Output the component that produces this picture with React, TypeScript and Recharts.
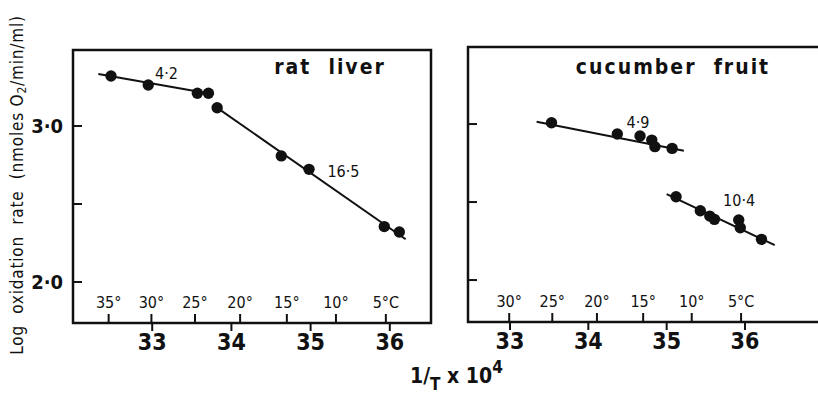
import React from 'react';
import {
  ComposedChart,
  Scatter,
  Line,
  XAxis,
  YAxis,
  ReferenceArea,
  ReferenceDot,
  Customized,
} from 'recharts';

const FONT = "'Liberation Sans Narrow', 'DejaVu Sans Condensed', 'Liberation Sans', Arial, sans-serif";
const INK = '#111';

// ---- rat liver ----
const ratX = [32.48, 32.95, 33.57, 33.71, 33.82, 34.63, 34.98, 35.93, 36.12];
const ratY = [3.32, 3.263, 3.21, 3.21, 3.117, 2.808, 2.722, 2.355, 2.32];
const ratFit1X = [32.32, 33.77];
const ratFit1Y = [3.333, 3.203];
const ratFit2X = [33.83, 36.2];
const ratFit2Y = [3.113, 2.274];
const ratNotes = ['4·2', '16·5'];
const ratNoteX = [33.18, 35.415];
const ratNoteY = [3.34, 2.712];

// ---- cucumber fruit ----
const cucX = [33.53, 34.37, 34.66, 34.81, 34.85, 35.07, 35.12, 35.43, 35.55, 35.61, 35.92, 35.94, 36.21];
const cucY = [3.008, 2.936, 2.923, 2.897, 2.855, 2.844, 2.534, 2.444, 2.41, 2.389, 2.385, 2.335, 2.261];
const cucFit1X = [33.34, 35.22];
const cucFit1Y = [3.015, 2.829];
const cucFit2X = [35.0, 36.38];
const cucFit2Y = [2.551, 2.224];
const cucNotes = ['4·9', '10·4'];
const cucNoteX = [34.635, 35.925];
const cucNoteY = [3.01, 2.513];

// ---- axes ----
const numTicks = [33, 34, 35, 36];
const numTickLabels = ['33', '34', '35', '36'];
const ratDegTicks = [32.45, 32.99, 33.54, 34.11, 34.7, 35.32, 35.95];
const ratDegLabels = ['35°', '30°', '25°', '20°', '15°', '10°', '5°C'];
const cucDegTicks = [32.99, 33.54, 34.11, 34.7, 35.32, 35.95];
const cucDegLabels = ['30°', '25°', '20°', '15°', '10°', '5°C'];
const yTicks = [2.0, 2.5, 3.0];
const yTickLabels = ['2·0', '', '3·0'];

const ratXDomain: [number, number] = [32.0, 36.52];
const ratYDomain: [number, number] = [1.737, 3.487];
const cucXDomain: [number, number] = [32.464, 36.983];
const cucYDomain: [number, number] = [1.731, 3.494];

const zip = (xs: number[], ys: number[]) => xs.map((x, i) => ({ x, y: ys[i] }));

const Dot = (p: any) => <circle cx={p.cx} cy={p.cy} r={5.7} fill={INK} />;

const YTick = (props: any) => {
  const { x, y, payload, showLabel } = props;
  const idx = yTicks.indexOf(payload.value);
  const label = showLabel ? yTickLabels[idx] : '';
  return (
    <g>
      <line x1={x} x2={x + 9} y1={y} y2={y} stroke={INK} strokeWidth={2} />
      {label ? (
        <text x={x - 10} y={y} dy="0.36em" textAnchor="end" fontFamily={FONT} fontSize={20} fontWeight={700} fill={INK}>
          {label}
        </text>
      ) : null}
    </g>
  );
};

const XTick = (props: any) => {
  const { x, y, payload, degTicks, degLabels } = props;
  const v = payload.value;
  const ni = numTicks.indexOf(v);
  if (ni >= 0) {
    return (
      <g>
        <line x1={x} x2={x} y1={y} y2={y + 8} stroke={INK} strokeWidth={2} />
        <text x={x} y={y + 11} dy="0.71em" textAnchor="middle" fontFamily={FONT} fontSize={23} fontWeight={700} fill={INK}>
          {numTickLabels[ni]}
        </text>
      </g>
    );
  }
  const di = degTicks.indexOf(v);
  return (
    <g>
      <line x1={x} x2={x} y1={y} y2={y - 9} stroke={INK} strokeWidth={2} />
      <text x={x} y={y - 15} textAnchor="middle" fontFamily={FONT} fontSize={16} fill={INK}>
        {di >= 0 ? degLabels[di] : ''}
      </text>
    </g>
  );
};

const LeftTexts = () => (
  <g fontFamily={FONT} fill={INK}>
    <text x={330} y={74} textAnchor="middle" fontSize={21} fontWeight={600} letterSpacing={2} style={{ whiteSpace: 'pre' }}>
      {'rat  liver'}
    </text>
    <text
      transform="translate(23,185) rotate(-90)"
      textAnchor="middle"
      fontSize={17}
      letterSpacing={0.8}
      style={{ whiteSpace: 'pre' }}
    >
      <tspan>{'Log  oxidation  rate  (nmoles O'}</tspan>
      <tspan dy={3} fontSize={12}>2</tspan>
      <tspan dy={-3}>{'/min/ml)'}</tspan>
    </text>
    <text x={410} y={383} fontSize={21} fontWeight={700} style={{ whiteSpace: 'pre' }}>
      <tspan>1</tspan>
      <tspan>/</tspan>
      <tspan dy={7} fontSize={17}>T</tspan>
      <tspan dy={-7}>{' x 10'}</tspan>
      <tspan dy={-10} fontSize={17}>4</tspan>
    </text>
  </g>
);

const RightTexts = () => (
  <g fontFamily={FONT} fill={INK}>
    <text x={673} y={74} textAnchor="middle" fontSize={21} fontWeight={600} letterSpacing={2} style={{ whiteSpace: 'pre' }}>
      {'cucumber  fruit'}
    </text>
  </g>
);

type PanelProps = {
  width: number;
  margin: { top: number; right: number; bottom: number; left: number };
  xDomain: [number, number];
  yDomain: [number, number];
  points: { x: number; y: number }[];
  fits: { x: number; y: number }[][];
  degTicks: number[];
  degLabels: string[];
  notes: string[];
  noteX: number[];
  noteY: number[];
  showYLabels: boolean;
  texts: React.ReactNode;
};

const Panel = (p: PanelProps) => {
  const allTicks = [...numTicks, ...p.degTicks].sort((a, b) => a - b);
  return (
    <ComposedChart width={p.width} height={394} margin={p.margin}>
      <XAxis
        xAxisId="num"
        dataKey="x"
        type="number"
        domain={p.xDomain}
        allowDataOverflow
        ticks={allTicks}
        interval={0}
        height={1}
        axisLine={false}
        tickLine={false}
        tickSize={0}
        tickMargin={0}
        tick={<XTick degTicks={p.degTicks} degLabels={p.degLabels} />}
      />
      <YAxis
        yAxisId="y"
        dataKey="y"
        type="number"
        domain={p.yDomain}
        allowDataOverflow
        ticks={yTicks}
        interval={0}
        width={1}
        axisLine={false}
        tickLine={false}
        tickSize={0}
        tickMargin={0}
        tick={<YTick showLabel={p.showYLabels} />}
      />
      <ReferenceArea
        xAxisId="num"
        yAxisId="y"
        x1={p.xDomain[0]}
        x2={p.xDomain[1]}
        y1={p.yDomain[0]}
        y2={p.yDomain[1]}
        fill="none"
        fillOpacity={0}
        stroke={INK}
        strokeWidth={2.5}
        ifOverflow="visible"
      />
      {p.fits.map((f, i) => (
        <Line
          key={i}
          xAxisId="num"
          yAxisId="y"
          data={f}
          dataKey="y"
          stroke={INK}
          strokeWidth={2}
          dot={false}
          isAnimationActive={false}
        />
      ))}
      <Scatter xAxisId="num" yAxisId="y" data={p.points} dataKey="y" shape={Dot} isAnimationActive={false} />
      {p.notes.map((n, i) => (
        <ReferenceDot
          key={n}
          xAxisId="num"
          yAxisId="y"
          x={p.noteX[i]}
          y={p.noteY[i]}
          r={0}
          fill="none"
          stroke="none"
          label={{ value: n, position: 'center', fill: INK, fontSize: 16, fontFamily: FONT }}
        />
      ))}
      <Customized component={() => p.texts} />
    </ComposedChart>
  );
};

export default function App() {
  return (
    <div style={{ position: 'absolute', left: 0, top: 0, width: 818, height: 394, overflow: 'hidden', background: '#fff' }}>
      <div style={{ position: 'absolute', left: 0, top: 0 }}>
        <Panel
          width={818}
          margin={{ top: 50, right: 387, bottom: 70, left: 72 }}
          xDomain={ratXDomain}
          yDomain={ratYDomain}
          points={zip(ratX, ratY)}
          fits={[zip(ratFit1X, ratFit1Y), zip(ratFit2X, ratFit2Y)]}
          degTicks={ratDegTicks}
          degLabels={ratDegLabels}
          notes={ratNotes}
          noteX={ratNoteX}
          noteY={ratNoteY}
          showYLabels
          texts={<LeftTexts />}
        />
      </div>
      <div style={{ position: 'absolute', left: 0, top: 0 }}>
        <Panel
          width={830}
          margin={{ top: 47, right: 8, bottom: 71, left: 467 }}
          xDomain={cucXDomain}
          yDomain={cucYDomain}
          points={zip(cucX, cucY)}
          fits={[zip(cucFit1X, cucFit1Y), zip(cucFit2X, cucFit2Y)]}
          degTicks={cucDegTicks}
          degLabels={cucDegLabels}
          notes={cucNotes}
          noteX={cucNoteX}
          noteY={cucNoteY}
          showYLabels={false}
          texts={<RightTexts />}
        />
      </div>
    </div>
  );
}
